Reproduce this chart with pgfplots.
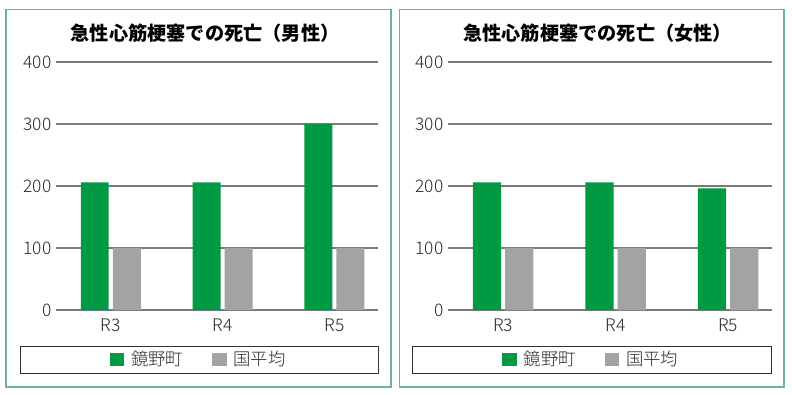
\documentclass[border=0pt]{standalone}
\usepackage{fontspec}
\setmainfont{Noto Sans CJK JP}
\newfontfamily\lightfont{Noto Sans CJK JP}[UprightFont=* Light]
\usepackage{pgfplots}
\pgfplotsset{compat=1.18}
\definecolor{bargreen}{HTML}{009944}
\definecolor{bargray}{HTML}{A3A3A3}
\definecolor{framec}{HTML}{6DB39A}
\definecolor{gridc}{HTML}{7A7A7A}
\pgfplotsset{
  sqlegend/.style={legend image code/.code={\fill[##1] (0pt,-5.2pt) rectangle (11pt,5.2pt); \path (14.2pt,0pt);}},
  panel/.style={
    scale only axis, height=186pt,
    ymin=0, ymax=400, ytick={0,100,200,300,400},
    xmin=-0.49, xmax=2.39, xtick={0,1,2}, xticklabels={R3,R4,R5},
    axis line style={draw=none}, major tick length=0pt,
    ymajorgrids, grid style={gridc, line width=0.8pt},
    ticklabel style={font=\lightfont\fontsize{13}{15}\selectfont, text=black!85},
    /pgf/number format/assume math mode=true,
    xticklabel style={yshift=-3pt},
    ybar, bar width=0.25,
    legend style={draw=none, fill=none, anchor=center, legend columns=2,
      font=\lightfont\fontsize{13}{15}\selectfont, text=black!85,
      /tikz/every even column/.append style={column sep=19.5pt}},
  }
}
\begin{document}
\begin{tikzpicture}
\path[fill=white] (0,0) rectangle (594pt,295.5pt);
% frames
\draw[framec, line width=1.1pt] (4.5pt,5.25pt) rectangle (293.25pt,288.375pt);
\draw[framec, line width=1.1pt] (299.5pt,5.25pt) rectangle (588pt,288.375pt);
% legend boxes
\draw[black!80, line width=0.75pt] (15pt,15.75pt) rectangle (283.5pt,36pt);
\draw[black!80, line width=0.75pt] (309pt,15.75pt) rectangle (578.25pt,36pt);
% titles
\node[font=\fontsize{14.4}{16}\selectfont\bfseries] at (153.75pt,270.4pt) {急性心筋梗塞での死亡（男性）};
\node[font=\fontsize{14.4}{16}\selectfont\bfseries] at (448.3pt,270.4pt) {急性心筋梗塞での死亡（女性）};

\begin{axis}[panel, at={(42pt,63pt)}, anchor=south west, width=241.5pt,
  legend style={at={(0.444,-0.1996)}}]
\addplot[fill=bargreen, draw=none, bar shift=-0.1435, sqlegend] coordinates {(0,206) (1,206) (2,300)};
\addplot[fill=bargray, draw=none, bar shift=0.1435, sqlegend] coordinates {(0,100) (1,100) (2,100)};
\legend{鏡野町,国平均}
\end{axis}

\begin{axis}[panel, at={(336pt,63pt)}, anchor=south west, width=243pt,
  legend style={at={(0.443,-0.1996)}}]
\addplot[fill=bargreen, draw=none, bar shift=-0.1435, sqlegend] coordinates {(0,206) (1,206) (2,196)};
\addplot[fill=bargray, draw=none, bar shift=0.1435, sqlegend] coordinates {(0,100) (1,100) (2,100)};
\legend{鏡野町,国平均}
\end{axis}
\end{tikzpicture}
\end{document}
